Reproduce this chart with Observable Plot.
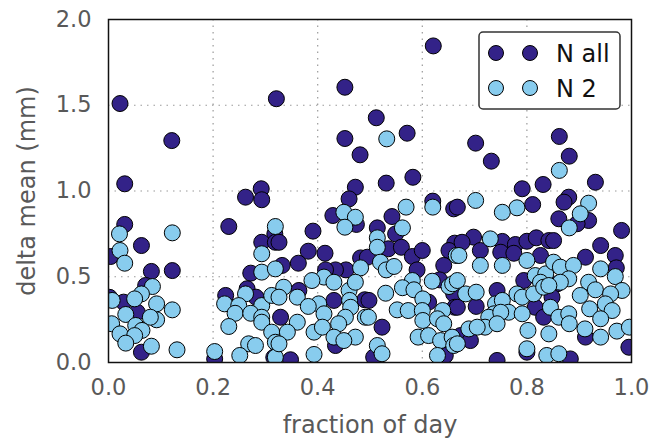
<!DOCTYPE html>
<html>
<head>
<meta charset="utf-8">
<script src="https://cdn.jsdelivr.net/npm/d3@7"></script>
<script src="https://cdn.jsdelivr.net/npm/@observablehq/plot@0.6"></script>
<style>
  html, body { margin: 0; padding: 0; background: white; }
  #wrap { position: relative; width: 655px; height: 442px; font-family: "DejaVu Sans", sans-serif; }
  #legend { position: absolute; left: 478px; top: 31px; }
</style>
</head>
<body>
<div id="wrap"></div>
<script>
const seriesNames = ["N all", "N 2"];
const seriesColors = ["#332288", "#88CCEE"];
const xTicks = [0, 0.2, 0.4, 0.6, 0.8, 1.0];
const yTicks = [0, 0.5, 1.0, 1.5, 2.0];
const xGrid = [0.2, 0.4, 0.6, 0.8];
const yGrid = [0.5, 1.0, 1.5];
const xLabel = "fraction of day";
const yLabel = "delta mean (mm)";

// Series "N all": [fraction of day, delta mean]
const nAll = [
  [0.022,1.51],[0.121,1.294],[0.031,1.042],[0.321,1.538],[0.292,1.013],[0.452,1.605],[0.452,1.306],
  [0.481,1.211],[0.472,1.022],[0.621,1.846],[0.512,1.427],[0.571,1.337],[0.531,1.046],[0.582,1.08],
  [0.702,1.279],[0.732,1.174],[0.862,1.318],[0.881,1.203],[0.931,1.051],[0.791,1.013],[0.831,1.038],
  [0.031,0.805],[0.063,0.682],[0.004,0.618],[0.082,0.531],[0.122,0.536],[0.071,0.449],[0.029,0.352],
  [0.055,0.293],[0.063,0.06],[0.002,0.38],
  [0.262,0.964],[0.293,0.949],[0.230,0.793],[0.318,0.75],[0.293,0.701],[0.319,0.701],[0.272,0.521],
  [0.265,0.43],[0.224,0.391],[0.282,0.381],[0.203,0.021],[0.316,0.03],
  [0.46,0.954],[0.429,0.857],[0.474,0.805],[0.326,0.701],[0.391,0.766],[0.382,0.649],[0.414,0.637],
  [0.363,0.579],[0.332,0.566],[0.482,0.61],[0.454,0.54],[0.434,0.54],[0.415,0.54],[0.364,0.42],
  [0.431,0.362],[0.49,0.366],[0.329,0.264],[0.434,0.099],[0.348,0.016],
  [0.62,0.941],[0.66,0.896],[0.542,0.851],[0.514,0.785],[0.549,0.75],[0.535,0.663],[0.56,0.672],
  [0.581,0.618],[0.60,0.653],[0.662,0.696],[0.651,0.653],[0.641,0.566],[0.59,0.54],[0.495,0.614],
  [0.633,0.482],[0.66,0.40],[0.498,0.362],[0.612,0.352],[0.662,0.322],[0.523,0.206],[0.644,0.041],
  [0.507,0.031],
  [0.667,0.906],[0.811,0.921],[0.698,0.731],[0.753,0.706],[0.778,0.688],[0.80,0.707],[0.818,0.727],
  [0.842,0.711],[0.676,0.701],[0.711,0.653],[0.75,0.643],[0.775,0.637],[0.826,0.624],[0.794,0.478],
  [0.743,0.42],[0.703,0.327],[0.816,0.322],[0.832,0.264],[0.667,0.322],[0.673,0.157],[0.692,0.128],
  [0.743,0.012],[0.80,0.06],
  [0.88,0.964],[0.871,0.935],[0.861,0.838],[0.918,0.828],[0.896,0.809],[0.981,0.77],[0.851,0.711],
  [0.941,0.682],[0.912,0.614],[0.969,0.624],[0.971,0.552],[0.858,0.459],[0.848,0.381],[0.912,0.148],
  [0.995,0.089],[0.883,0.021]
];

// Series "N 2": [fraction of day, delta mean]
const n2 = [
  [0.532,1.304],[0.862,1.12],
  [0.021,0.75],[0.122,0.756],[0.022,0.653],[0.031,0.579],[0.084,0.443],[0.063,0.40],[0.05,0.371],
  [0.007,0.362],[0.092,0.342],[0.122,0.307],[0.033,0.28],[0.092,0.249],[0.08,0.264],[0.006,0.226],
  [0.052,0.216],[0.064,0.187],[0.022,0.167],[0.05,0.157],[0.033,0.113],[0.082,0.095],[0.131,0.074],
  [0.319,0.793],[0.293,0.634],[0.293,0.527],[0.319,0.546],[0.262,0.40],[0.222,0.342],[0.249,0.332],
  [0.293,0.332],[0.312,0.391],[0.242,0.287],[0.272,0.287],[0.293,0.264],[0.293,0.235],[0.23,0.21],
  [0.312,0.177],[0.268,0.109],[0.281,0.099],[0.319,0.118],[0.203,0.064],[0.251,0.041],[0.319,0.031],
  [0.45,0.876],[0.472,0.847],[0.452,0.789],[0.482,0.552],[0.412,0.498],[0.389,0.478],[0.431,0.468],
  [0.335,0.439],[0.46,0.42],[0.472,0.468],[0.361,0.381],[0.326,0.381],[0.461,0.362],[0.402,0.342],
  [0.382,0.327],[0.463,0.322],[0.412,0.284],[0.491,0.264],[0.453,0.264],[0.361,0.235],[0.44,0.226],
  [0.342,0.177],[0.393,0.177],[0.409,0.206],[0.431,0.148],[0.472,0.148],[0.45,0.128],[0.326,0.109],
  [0.393,0.047],
  [0.62,0.906],[0.569,0.906],[0.562,0.785],[0.514,0.727],[0.514,0.672],[0.665,0.624],[0.52,0.585],
  [0.531,0.54],[0.546,0.56],[0.581,0.478],[0.562,0.436],[0.584,0.424],[0.619,0.474],[0.651,0.443],
  [0.658,0.459],[0.53,0.404],[0.601,0.371],[0.552,0.307],[0.573,0.303],[0.60,0.303],[0.639,0.303],
  [0.497,0.264],[0.601,0.245],[0.629,0.255],[0.641,0.226],[0.592,0.148],[0.612,0.157],[0.635,0.128],
  [0.657,0.148],[0.66,0.099],[0.514,0.099],[0.523,0.051],[0.629,0.041],
  [0.702,0.945],[0.781,0.902],[0.753,0.876],[0.73,0.721],[0.67,0.624],[0.711,0.566],[0.753,0.566],
  [0.80,0.595],[0.816,0.507],[0.836,0.517],[0.826,0.468],[0.667,0.478],[0.683,0.40],[0.703,0.41],
  [0.781,0.40],[0.791,0.381],[0.813,0.40],[0.832,0.439],[0.74,0.342],[0.753,0.362],[0.765,0.293],
  [0.737,0.284],[0.727,0.264],[0.75,0.293],[0.791,0.284],[0.72,0.206],[0.743,0.226],[0.689,0.196],
  [0.705,0.206],[0.802,0.187],[0.842,0.167],[0.667,0.109],[0.80,0.08],[0.838,0.041],
  [0.918,0.929],[0.902,0.867],[0.881,0.785],[0.851,0.585],[0.864,0.556],[0.889,0.566],[0.941,0.546],
  [0.969,0.501],[0.88,0.488],[0.864,0.468],[0.842,0.449],[0.918,0.468],[0.931,0.424],[0.982,0.42],
  [0.902,0.391],[0.96,0.40],[0.95,0.342],[0.963,0.303],[0.92,0.313],[0.845,0.322],[0.861,0.264],
  [0.88,0.284],[0.941,0.255],[0.911,0.196],[0.881,0.226],[0.972,0.183],[0.996,0.206],[0.941,0.148],
  [0.861,0.051]
];

const textColor = "#595959";
const fmt = d3.format(".1f");

const chart = Plot.plot({
  width: 655,
  height: 442,
  marginLeft: 108,
  marginRight: 24,
  marginTop: 19,
  marginBottom: 80,
  style: { fontFamily: "DejaVu Sans, sans-serif", fontSize: "22px", color: textColor, background: "white" },
  x: { domain: [0, 1] },
  y: { domain: [0, 2] },
  marks: [
    Plot.gridX(xGrid, { stroke: "#9a9a9a", strokeOpacity: 1, strokeWidth: 1.2, strokeDasharray: "1.5,5" }),
    Plot.gridY(yGrid, { stroke: "#9a9a9a", strokeOpacity: 1, strokeWidth: 1.2, strokeDasharray: "1.5,5" }),
    Plot.axisX(xTicks, { tickSize: 0, tickPadding: 17, tickFormat: fmt, label: null, fontSize: 22.5, fill: textColor }),
    Plot.axisY(yTicks, { tickSize: 0, tickPadding: 17, tickFormat: fmt, label: null, fontSize: 22.5, fill: textColor }),
    Plot.dot(nAll, { x: d => d[0], y: d => d[1], r: 8, fill: seriesColors[0], stroke: "#000", strokeWidth: 1, clip: true }),
    Plot.dot(n2, { x: d => d[0], y: d => d[1], r: 8, fill: seriesColors[1], stroke: "#000", strokeWidth: 1, clip: true }),
    Plot.frame({ stroke: "#111", strokeWidth: 1.5 }),
    Plot.text([xLabel], { frameAnchor: "bottom", dy: 63, textAnchor: "middle", lineAnchor: "middle", text: d => d, fontSize: 24, fill: textColor }),
    Plot.text([yLabel], { frameAnchor: "left", dx: -81, rotate: -90, textAnchor: "middle", lineAnchor: "middle", text: d => d, fontSize: 24, fill: textColor })
  ]
});

const wrap = document.getElementById("wrap");
wrap.appendChild(chart);

// Legend (inside plot area, top-right)
const lw = 141, lh = 77;
const legend = d3.create("svg").attr("id", "legend").attr("width", lw + 2).attr("height", lh + 2);
legend.append("rect").attr("x", 1).attr("y", 1).attr("width", lw).attr("height", lh)
  .attr("rx", 4).attr("fill", "white").attr("stroke", "#333").attr("stroke-width", 1.5);
seriesNames.forEach((name, i) => {
  const cy = 22 + i * 35;
  [18, 52].forEach(cx => legend.append("circle").attr("cx", cx).attr("cy", cy).attr("r", 7.5)
    .attr("fill", seriesColors[i]).attr("stroke", "#000").attr("stroke-width", 1));
  legend.append("text").attr("x", 78).attr("y", cy).attr("dy", "0.36em")
    .attr("font-family", "DejaVu Sans, sans-serif").attr("font-size", 24).attr("fill", "#111").text(name);
});
wrap.appendChild(legend.node());
</script>
</body>
</html>
